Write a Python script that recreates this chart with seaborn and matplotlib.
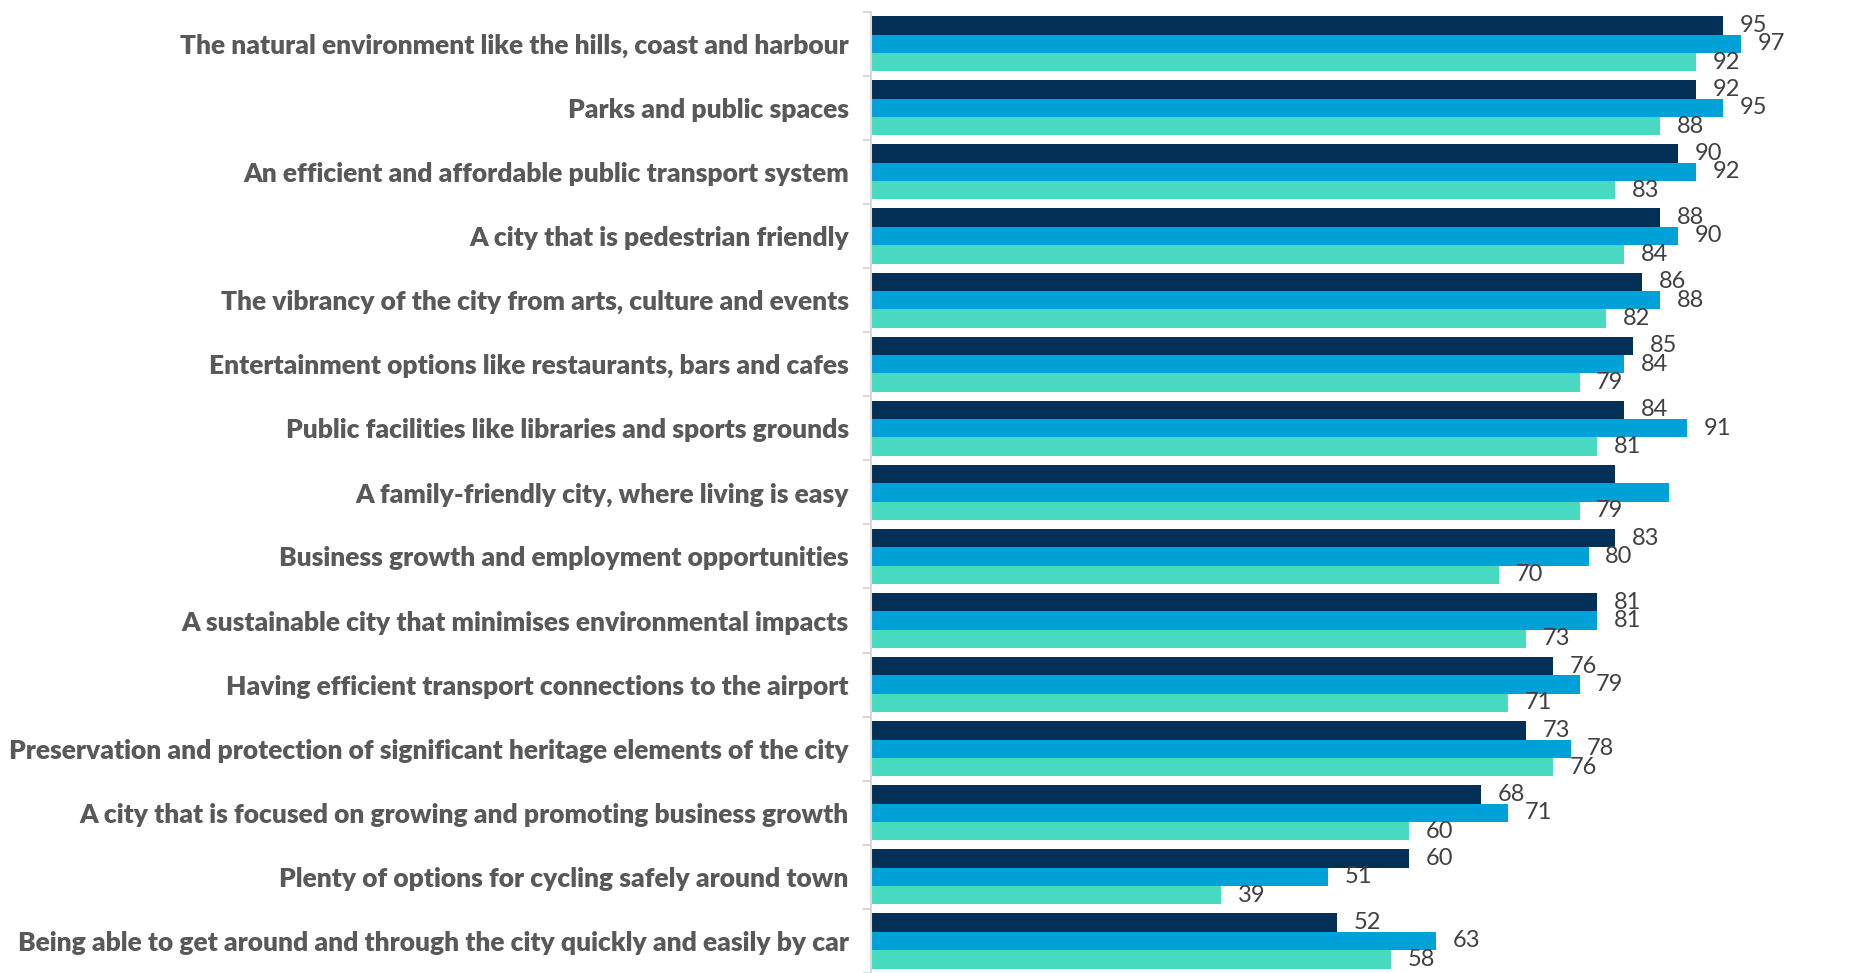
import matplotlib
matplotlib.use("Agg")
import matplotlib.pyplot as plt
import seaborn as sns
import pandas as pd
import numpy as np

categories = [
    "The natural environment like the hills, coast and harbour",
    "Parks and public spaces",
    "An efficient and affordable public transport system",
    "A city that is pedestrian friendly",
    "The vibrancy of the city from arts, culture and events",
    "Entertainment options like restaurants, bars and cafes",
    "Public facilities like libraries and sports grounds",
    "A family-friendly city, where living is easy",
    "Business growth and employment opportunities",
    "A sustainable city that minimises environmental impacts",
    "Having efficient transport connections to the airport",
    "Preservation and protection of significant heritage elements of the city",
    "A city that is focused on growing and promoting business growth",
    "Plenty of options for cycling safely around town",
    "Being able to get around and through the city quickly and easily by car",
]
series_names = ["Series 1", "Series 2", "Series 3"]
series1 = [95, 92, 90, 88, 86, 85, 84, 83, 83, 81, 76, 73, 68, 60, 52]
series2 = [97, 95, 92, 90, 88, 84, 91, 89, 80, 81, 79, 78, 71, 51, 63]
series3 = [92, 88, 83, 84, 82, 79, 81, 79, 70, 73, 71, 76, 60, 39, 58]
# labels shown in the reference (two values in "family-friendly" row are unlabeled)
show1 = [True] * 15
show2 = [True] * 15
show1[7] = False
show2[7] = False
show3 = [True] * 15

colors = ["#023057", "#00A1D8", "#48DAC0"]

rows = []
for name, vals in zip(series_names, [series1, series2, series3]):
    for c, v in zip(categories, vals):
        rows.append({"category": c, "series": name, "value": v})
df = pd.DataFrame(rows)

sns.set_theme(style="white")
plt.rcParams['font.family'] = ['Lato', 'DejaVu Sans']

fig = plt.figure(figsize=(18.59, 9.73), dpi=100)
ax = fig.add_axes([0.4685, 0.0, 0.951 - 0.4685, 0.988])

sns.barplot(data=df, y="category", x="value", hue="series", order=categories,
            hue_order=series_names, palette=colors, orient="h", width=0.86,
            dodge=True, legend=False, ax=ax, saturation=1, linewidth=0)

ax.set_xlim(0, 100)
ax.set_ylim(14.5, -0.5)
ax.set_xlabel("")
ax.set_ylabel("")
ax.set_xticks([])
for s in ["top", "right", "bottom"]:
    ax.spines[s].set_visible(False)
ax.spines["left"].set_color("#d9d9d9")
ax.spines["left"].set_linewidth(1.5)

ax.tick_params(axis="y", which="major", length=0, pad=16)
ax.set_yticks(np.arange(-0.5, 15, 1), minor=True)
ax.tick_params(axis="y", which="minor", length=6, width=1.5, color="#d9d9d9", left=True)
for lab in ax.get_yticklabels():
    lab.set_fontsize(19)
    lab.set_fontweight("heavy")
    lab.set_color("#595959")

for cont, vals, show in zip(ax.containers, [series1, series2, series3], [show1, show2, show3]):
    labels = [str(v) if s else "" for v, s in zip(vals, show)]
    ax.bar_label(cont, labels=labels, padding=12, fontsize=17, color="#404040")

fig.savefig("out.png", dpi=100)
